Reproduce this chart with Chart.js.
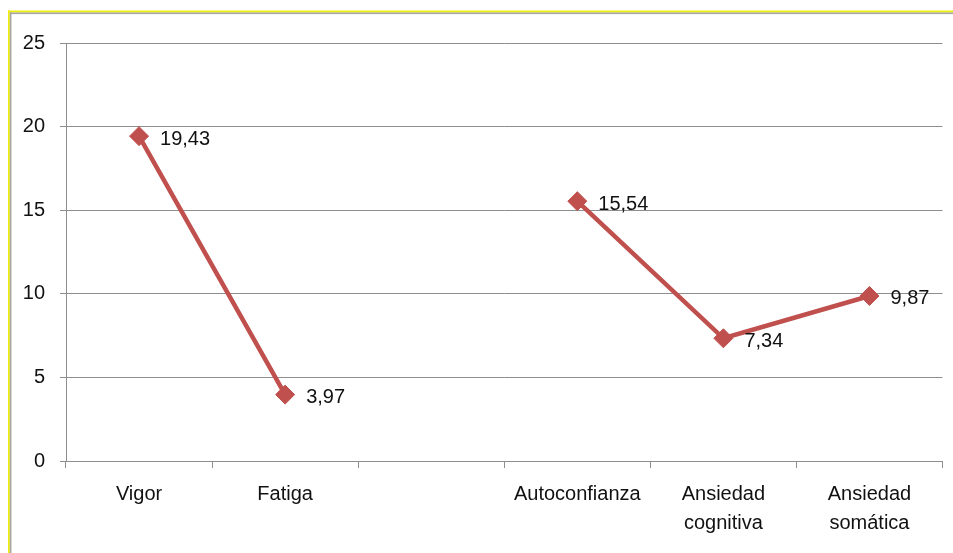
<!DOCTYPE html>
<html>
<head>
<meta charset="utf-8">
<script src="https://cdn.jsdelivr.net/npm/chart.js@4/dist/chart.umd.min.js"></script>
<style>
  html, body { margin: 0; padding: 0; background: #fff; }
  #wrap { position: relative; width: 953px; height: 553px; }
</style>
</head>
<body>
<div id="wrap"><canvas id="chart" width="953" height="553"></canvas></div>
<script>
// Perfil de estados: vigor/fatiga y autoconfianza/ansiedad
const categories = ['Vigor', 'Fatiga', '', 'Autoconfianza', ['Ansiedad', 'cognitiva'], ['Ansiedad', 'somática']];
const scores = [19.43, 3.97, null, 15.54, 7.34, 9.87];
const yTicks = [0, 5, 10, 15, 20, 25];

const lineColor = '#c0504d';
const gridColor = '#8e8e8e';
const fontFamily = '"Liberation Sans", Arial, sans-serif';

// Thin yellow/gray frame along the top and left edges
const framePlugin = {
    id: 'frame',
    beforeDraw(chart) {
        const ctx = chart.ctx;
        ctx.save();
        ctx.fillStyle = '#ffffff';
        ctx.fillRect(0, 0, chart.width, chart.height);
        ctx.fillStyle = '#eeee10';
        ctx.fillRect(8, 10.5, chart.width, 2);
        ctx.fillRect(8, 10.5, 1.8, chart.height);
        ctx.fillStyle = '#a4a4a4';
        ctx.fillRect(9.8, 12.5, chart.width, 1.6);
        ctx.fillRect(9.8, 12.5, 1.6, chart.height);
        ctx.restore();
    }
};

// Value labels to the right of each marker, decimal comma
const valueLabels = {
    id: 'valueLabels',
    afterDatasetsDraw(chart) {
        const ctx = chart.ctx;
        const meta = chart.getDatasetMeta(0);
        ctx.save();
        ctx.font = '20px ' + fontFamily;
        ctx.fillStyle = '#111';
        ctx.textAlign = 'left';
        ctx.textBaseline = 'middle';
        meta.data.forEach((pt, i) => {
            const v = scores[i];
            if (v === null) return;
            ctx.fillText(v.toFixed(2).replace('.', ','), pt.x + 21, pt.y + 3);
        });
        ctx.restore();
    }
};

new Chart(document.getElementById('chart'), {
    type: 'line',
    data: {
        labels: categories,
        datasets: [{
            data: scores,
            borderColor: lineColor,
            backgroundColor: lineColor,
            borderWidth: 4.5,
            pointStyle: 'rectRot',
            pointRadius: 9.5,
            pointBorderWidth: 1,
            pointBackgroundColor: lineColor,
            pointBorderColor: lineColor,
            spanGaps: false,
            tension: 0
        }]
    },
    options: {
        responsive: false,
        animation: false,
        events: [],
        layout: { padding: { top: 43, right: 10, left: 0, bottom: 0 } },
        plugins: {
            legend: { display: false },
            tooltip: { enabled: false }
        },
        scales: {
            x: {
                offset: true,
                grid: {
                    offset: true,
                    drawOnChartArea: false,
                    drawTicks: true,
                    tickLength: 7,
                    color: gridColor
                },
                border: { color: gridColor, width: 1 },
                ticks: {
                    color: '#111',
                    padding: 12,
                    maxRotation: 0,
                    autoSkip: false,
                    font: { family: fontFamily, size: 20, lineHeight: 1.45 }
                },
                afterFit(scale) { scale.height = 92; }
            },
            y: {
                min: 0,
                max: 25,
                afterBuildTicks(scale) { scale.ticks = yTicks.map(v => ({ value: v })); },
                grid: { color: gridColor, tickLength: 6, lineWidth: 1 },
                border: { color: gridColor, width: 1 },
                ticks: {
                    color: '#111',
                    padding: 15,
                    font: { family: fontFamily, size: 20 }
                },
                afterFit(scale) { scale.width = 66; }
            }
        }
    },
    plugins: [framePlugin, valueLabels]
});
</script>
</body>
</html>
